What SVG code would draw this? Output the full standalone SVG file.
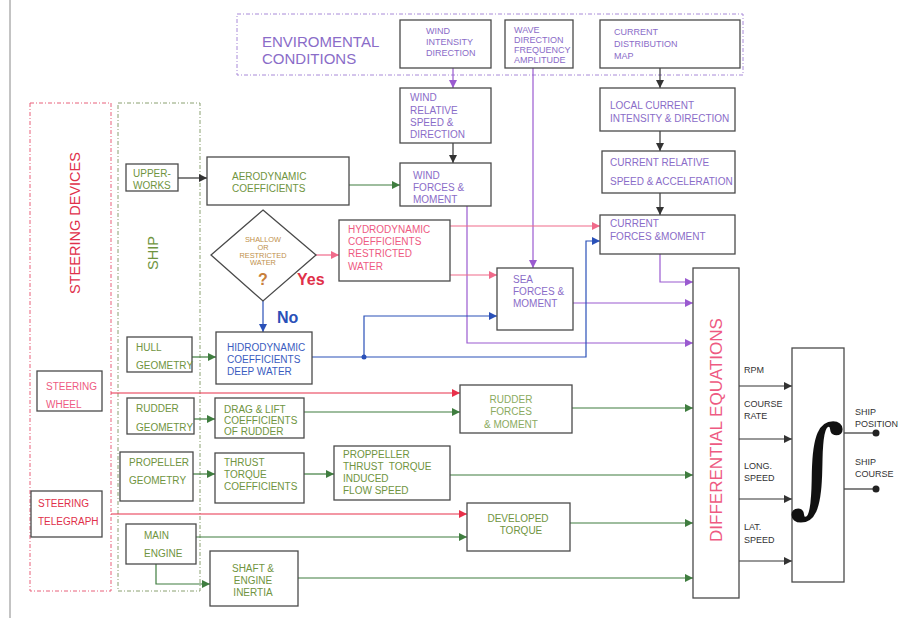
<svg xmlns="http://www.w3.org/2000/svg" width="918" height="618" viewBox="0 0 918 618">
<style>
text{font-family:"Liberation Sans",Arial,sans-serif;font-size:10px}
.box{fill:#fff;stroke:#4a4a4a;stroke-width:1.3}
.pu{fill:#8a6cc8}
.gr{fill:#6f9440}
.pk{fill:#ee5a82}
.rd{fill:#e0304a}
.bl{fill:#3a5cc0}
.bk{fill:#333}
.dm{fill:#c0904a;font-size:7.4px}
.lk{fill:none;stroke:#333;stroke-width:1.2}
.lpu{fill:none;stroke:#9a5ad0;stroke-width:1.2}
.lpk{fill:none;stroke:#f06a8a;stroke-width:1.2}
.lrd{fill:none;stroke:#e8304a;stroke-width:1.2}
.lbl{fill:none;stroke:#2a50b8;stroke-width:1.2}
.lgr{fill:none;stroke:#3f7d3f;stroke-width:1.2}
</style>
<defs>
<marker id="ak" viewBox="0 0 10 10" refX="10" refY="5" markerWidth="8" markerHeight="8" markerUnits="userSpaceOnUse" orient="auto"><path d="M0,0L10,5L0,10z" fill="#333"/></marker>
<marker id="apu" viewBox="0 0 10 10" refX="10" refY="5" markerWidth="8" markerHeight="8" markerUnits="userSpaceOnUse" orient="auto"><path d="M0,0L10,5L0,10z" fill="#9a5ad0"/></marker>
<marker id="apk" viewBox="0 0 10 10" refX="10" refY="5" markerWidth="8" markerHeight="8" markerUnits="userSpaceOnUse" orient="auto"><path d="M0,0L10,5L0,10z" fill="#f06a8a"/></marker>
<marker id="ard" viewBox="0 0 10 10" refX="10" refY="5" markerWidth="8" markerHeight="8" markerUnits="userSpaceOnUse" orient="auto"><path d="M0,0L10,5L0,10z" fill="#e8304a"/></marker>
<marker id="abl" viewBox="0 0 10 10" refX="10" refY="5" markerWidth="8" markerHeight="8" markerUnits="userSpaceOnUse" orient="auto"><path d="M0,0L10,5L0,10z" fill="#2a50b8"/></marker>
<marker id="agr" viewBox="0 0 10 10" refX="10" refY="5" markerWidth="8" markerHeight="8" markerUnits="userSpaceOnUse" orient="auto"><path d="M0,0L10,5L0,10z" fill="#3f7d3f"/></marker>
</defs>
<rect width="918" height="618" fill="#fff"/>
<line x1="10" y1="0" x2="10" y2="618" stroke="#888" stroke-width="1"/>

<g id="env">
<rect x="237" y="14" width="506" height="61" fill="none" stroke="#a88ad8" stroke-width="1" stroke-dasharray="4,2,1,2"/>
<text class="pu" x="262" y="47" style="font-size:15px">ENVIROMENTAL</text>
<text class="pu" x="262" y="64" style="font-size:15px">CONDITIONS</text>
</g>
<g id="steering-devices">
<rect x="30" y="103" width="81" height="488" fill="none" stroke="#e8607a" stroke-width="1" stroke-dasharray="4,2,1,2"/>
<text class="rd" transform="translate(80,223) rotate(-90)" text-anchor="middle" style="font-size:14.5px">STEERING DEVICES</text>
</g>
<g id="ship">
<rect x="118" y="103" width="82" height="488" fill="none" stroke="#8aa070" stroke-width="1" stroke-dasharray="4,2,1,2"/>
<text class="gr" transform="translate(158,253) rotate(-90)" text-anchor="middle" style="font-size:14.5px">SHIP</text>
</g>

<g id="connectors">
<line class="lpu" x1="453" y1="68" x2="453" y2="88" marker-end="url(#apu)"/>
<line class="lk" x1="453" y1="143" x2="453" y2="163" marker-end="url(#ak)"/>
<line class="lk" x1="660" y1="68" x2="660" y2="88" marker-end="url(#ak)"/>
<line class="lk" x1="660" y1="131" x2="660" y2="151" marker-end="url(#ak)"/>
<line class="lk" x1="660" y1="193" x2="660" y2="215" marker-end="url(#ak)"/>
<line class="lpu" x1="533" y1="68" x2="533" y2="268" marker-end="url(#apu)"/>
<polyline class="lpu" points="467,206 467,343 693,343" marker-end="url(#apu)"/>
<line class="lpu" x1="573" y1="303" x2="693" y2="303" marker-end="url(#apu)"/>
<polyline class="lpu" points="660,254 660,282 693,282" marker-end="url(#apu)"/>
<line class="lk" x1="178" y1="178" x2="207" y2="178" marker-end="url(#ak)"/>
<line class="lgr" x1="349" y1="185" x2="400" y2="185" marker-end="url(#agr)"/>
<line class="lpk" x1="316" y1="255" x2="339" y2="255" marker-end="url(#apk)"/>
<line class="lpk" x1="450" y1="226" x2="600" y2="226" marker-end="url(#apk)"/>
<line class="lpk" x1="450" y1="275" x2="497" y2="275" marker-end="url(#apk)"/>
<line class="lbl" x1="263" y1="301" x2="263" y2="332" marker-end="url(#abl)"/>
<polyline class="lbl" points="312,357 586,357 586,241 600,241" marker-end="url(#abl)"/>
<polyline class="lbl" points="364,357 364,316 497,316" marker-end="url(#abl)"/>
<circle cx="364" cy="357" r="2.5" fill="#2a50b8"/>
<line class="lgr" x1="192" y1="357" x2="216" y2="357" marker-end="url(#agr)"/>
<line class="lrd" x1="111" y1="393" x2="460" y2="393" marker-end="url(#ard)"/>
<line class="lgr" x1="194" y1="419" x2="215" y2="419" marker-end="url(#agr)"/>
<line class="lgr" x1="304" y1="412" x2="460" y2="412" marker-end="url(#agr)"/>
<line class="lgr" x1="572" y1="408" x2="693" y2="408" marker-end="url(#agr)"/>
<line class="lgr" x1="193" y1="474" x2="215" y2="474" marker-end="url(#agr)"/>
<line class="lgr" x1="304" y1="474" x2="334" y2="474" marker-end="url(#agr)"/>
<line class="lgr" x1="450" y1="475" x2="693" y2="475" marker-end="url(#agr)"/>
<line class="lrd" x1="111" y1="514" x2="467" y2="514" marker-end="url(#ard)"/>
<line class="lgr" x1="196" y1="537" x2="467" y2="537" marker-end="url(#agr)"/>
<line class="lgr" x1="570" y1="523" x2="693" y2="523" marker-end="url(#agr)"/>
<polyline class="lgr" points="156,564 156,584 210,584" marker-end="url(#agr)"/>
<line class="lgr" x1="298" y1="578" x2="693" y2="578" marker-end="url(#agr)"/>
<line class="lk" x1="739" y1="386" x2="792" y2="386" marker-end="url(#ak)"/>
<line class="lk" x1="739" y1="439" x2="792" y2="439" marker-end="url(#ak)"/>
<line class="lk" x1="739" y1="499" x2="792" y2="499" marker-end="url(#ak)"/>
<line class="lk" x1="739" y1="561" x2="792" y2="561" marker-end="url(#ak)"/>
<line class="lk" x1="844" y1="433" x2="876" y2="433"/>
<circle cx="876" cy="433" r="3.5" fill="#222"/>
<line class="lk" x1="844" y1="489" x2="876" y2="489"/>
<circle cx="876" cy="489" r="3.5" fill="#222"/>
</g>

<g id="wind">
<rect class="box" x="400" y="20" width="91" height="48"/>
<text class="pu" x="426" y="34" style="font-size:9px">WIND</text>
<text class="pu" x="426" y="45" style="font-size:9px">INTENSITY</text>
<text class="pu" x="426" y="56" style="font-size:9px">DIRECTION</text>
</g>
<g id="wave">
<rect class="box" x="505" y="20" width="68" height="48"/>
<text class="pu" x="514" y="33" style="font-size:9px">WAVE</text>
<text class="pu" x="514" y="43" style="font-size:9px">DIRECTION</text>
<text class="pu" x="514" y="53" style="font-size:9px">FREQUENCY</text>
<text class="pu" x="514" y="63" style="font-size:9px">AMPLITUDE</text>
</g>
<g id="current-map">
<rect class="box" x="600" y="20" width="140" height="48"/>
<text class="pu" x="614" y="35" style="font-size:9px">CURRENT</text>
<text class="pu" x="614" y="47" style="font-size:9px">DISTRIBUTION</text>
<text class="pu" x="614" y="59" style="font-size:9px">MAP</text>
</g>
<g id="wind-relative">
<rect class="box" x="400" y="88" width="91" height="55"/>
<text class="pu" x="410" y="101">WIND</text>
<text class="pu" x="410" y="114">RELATIVE</text>
<text class="pu" x="410" y="126">SPEED &amp;</text>
<text class="pu" x="410" y="138">DIRECTION</text>
</g>
<g id="wind-forces">
<rect class="box" x="400" y="163" width="91" height="43"/>
<text class="pu" x="413" y="179">WIND</text>
<text class="pu" x="413" y="191">FORCES &amp;</text>
<text class="pu" x="413" y="203">MOMENT</text>
</g>
<g id="local-current">
<rect class="box" x="600" y="88" width="135" height="43"/>
<text class="pu" x="610" y="109">LOCAL CURRENT</text>
<text class="pu" x="610" y="122">INTENSITY &amp; DIRECTION</text>
</g>
<g id="current-relative">
<rect class="box" x="602" y="151" width="133" height="42"/>
<text class="pu" x="610" y="166">CURRENT RELATIVE</text>
<text class="pu" x="610" y="185">SPEED &amp; ACCELERATION</text>
</g>
<g id="current-forces">
<rect class="box" x="600" y="215" width="135" height="39"/>
<text class="pu" x="610" y="227">CURRENT</text>
<text class="pu" x="610" y="240">FORCES &amp;MOMENT</text>
</g>
<g id="sea-forces">
<rect class="box" x="497" y="268" width="76" height="62"/>
<text class="pu" x="513" y="283">SEA</text>
<text class="pu" x="513" y="295">FORCES &amp;</text>
<text class="pu" x="513" y="307">MOMENT</text>
</g>
<g id="upperworks">
<rect class="box" x="126" y="164" width="52" height="27"/>
<text class="gr" x="133" y="177">UPPER-</text>
<text class="gr" x="133" y="189">WORKS</text>
</g>
<g id="aerodynamic">
<rect class="box" x="207" y="157" width="142" height="48"/>
<text class="gr" x="232" y="180">AERODYNAMIC</text>
<text class="gr" x="232" y="192">COEFFICIENTS</text>
</g>
<g id="shallow">
<polygon class="box" points="263,210 316,255 263,301 211,255"/>
<text class="dm" x="263" y="242" text-anchor="middle">SHALLOW</text>
<text class="dm" x="263" y="249.8" text-anchor="middle">OR</text>
<text class="dm" x="263" y="257.6" text-anchor="middle">RESTRICTED</text>
<text class="dm" x="263" y="265.4" text-anchor="middle">WATER</text>
<text x="263" y="285" fill="#c8803a" text-anchor="middle" style="font-size:16px;font-weight:bold">?</text>
<text x="297" y="285" class="rd" style="font-size:16px;font-weight:bold">Yes</text>
<text x="277" y="323" fill="#2a50b8" style="font-size:16px;font-weight:bold">No</text>
</g>
<g id="hydro-restricted">
<rect class="box" x="339" y="220" width="111" height="61"/>
<text class="pk" x="348" y="233">HYDRODYNAMIC</text>
<text class="pk" x="348" y="245">COEFFICIENTS</text>
<text class="pk" x="348" y="257">RESTRICTED</text>
<text class="pk" x="348" y="270">WATER</text>
</g>
<g id="hull">
<rect class="box" x="127" y="337" width="65" height="35"/>
<text class="gr" x="136" y="351">HULL</text>
<text class="gr" x="136" y="369">GEOMETRY</text>
</g>
<g id="hydro-deep">
<rect class="box" x="216" y="332" width="96" height="52"/>
<text class="bl" x="227" y="351">HIDRODYNAMIC</text>
<text class="bl" x="227" y="363">COEFFICIENTS</text>
<text class="bl" x="227" y="375">DEEP WATER</text>
</g>
<g id="steering-wheel">
<rect class="box" x="37" y="371" width="65" height="40"/>
<text class="pk" x="46" y="390">STEERING</text>
<text class="pk" x="46" y="408">WHEEL</text>
</g>
<g id="rudder-geometry">
<rect class="box" x="127" y="398" width="67" height="36"/>
<text class="gr" x="136" y="412">RUDDER</text>
<text class="gr" x="136" y="431">GEOMETRY</text>
</g>
<g id="drag-lift">
<rect class="box" x="215" y="398" width="89" height="40"/>
<text class="gr" x="224" y="413">DRAG &amp; LIFT</text>
<text class="gr" x="224" y="424">COEFFICIENTS</text>
<text class="gr" x="224" y="435">OF RUDDER</text>
</g>
<g id="rudder-forces">
<rect class="box" x="460" y="385" width="112" height="48"/>
<g text-anchor="middle" fill="#8aaa60">
<text x="511" y="403">RUDDER</text>
<text x="511" y="415">FORCES</text>
<text x="511" y="428">&amp; MOMENT</text>
</g>
</g>
<g id="propeller-geometry">
<rect class="box" x="120" y="452" width="73" height="49"/>
<text class="gr" x="129" y="466">PROPELLER</text>
<text class="gr" x="129" y="484">GEOMETRY</text>
</g>
<g id="thrust">
<rect class="box" x="215" y="453" width="89" height="50"/>
<text class="gr" x="224" y="466">THRUST</text>
<text class="gr" x="224" y="478">TORQUE</text>
<text class="gr" x="224" y="490">COEFFICIENTS</text>
</g>
<g id="proppeller">
<rect class="box" x="334" y="446" width="116" height="54"/>
<text class="gr" x="343" y="458">PROPPELLER</text>
<text class="gr" x="343" y="470" xml:space="preserve">THRUST  TORQUE</text>
<text class="gr" x="343" y="482">INDUCED</text>
<text class="gr" x="343" y="494">FLOW SPEED</text>
</g>
<g id="steering-telegraph">
<rect class="box" x="31" y="491" width="71" height="46"/>
<text class="rd" x="38" y="507">STEERING</text>
<text class="rd" x="38" y="525">TELEGRAPH</text>
</g>
<g id="main-engine">
<rect class="box" x="126" y="524" width="70" height="40"/>
<text class="gr" x="144" y="539">MAIN</text>
<text class="gr" x="144" y="557">ENGINE</text>
</g>
<g id="developed-torque">
<rect class="box" x="467" y="503" width="103" height="48"/>
<g text-anchor="middle" fill="#6f9440">
<text x="518" y="522">DEVELOPED</text>
<text x="521" y="534">TORQUE</text>
</g>
</g>
<g id="shaft">
<rect class="box" x="210" y="551" width="88" height="55"/>
<g text-anchor="middle" fill="#6f9440">
<text x="253" y="572">SHAFT &amp;</text>
<text x="253" y="584">ENGINE</text>
<text x="253" y="596">INERTIA</text>
</g>
</g>
<g id="differential">
<rect class="box" x="693" y="268" width="46" height="330"/>
<text class="pk" transform="translate(722,430) rotate(-90)" text-anchor="middle" style="font-size:17px">DIFFERENTIAL EQUATIONS</text>
<text class="bk" x="744" y="373" style="font-size:9px">RPM</text>
<text class="bk" x="744" y="407" style="font-size:9px">COURSE</text>
<text class="bk" x="744" y="419" style="font-size:9px">RATE</text>
<text class="bk" x="744" y="469" style="font-size:9px">LONG.</text>
<text class="bk" x="744" y="481" style="font-size:9px">SPEED</text>
<text class="bk" x="744" y="530" style="font-size:9px">LAT.</text>
<text class="bk" x="744" y="543" style="font-size:9px">SPEED</text>
</g>
<g id="integrator">
<rect class="box" x="792" y="348" width="52" height="234"/>
<text x="817" y="503" fill="#111" text-anchor="middle" style="font-family:'DejaVu Serif',serif;font-size:108px">∫</text>
<text class="bk" x="855" y="415" style="font-size:9px">SHIP</text>
<text class="bk" x="855" y="427" style="font-size:9px">POSITION</text>
<text class="bk" x="855" y="465" style="font-size:9px">SHIP</text>
<text class="bk" x="855" y="477" style="font-size:9px">COURSE</text>
</g>
</svg>
